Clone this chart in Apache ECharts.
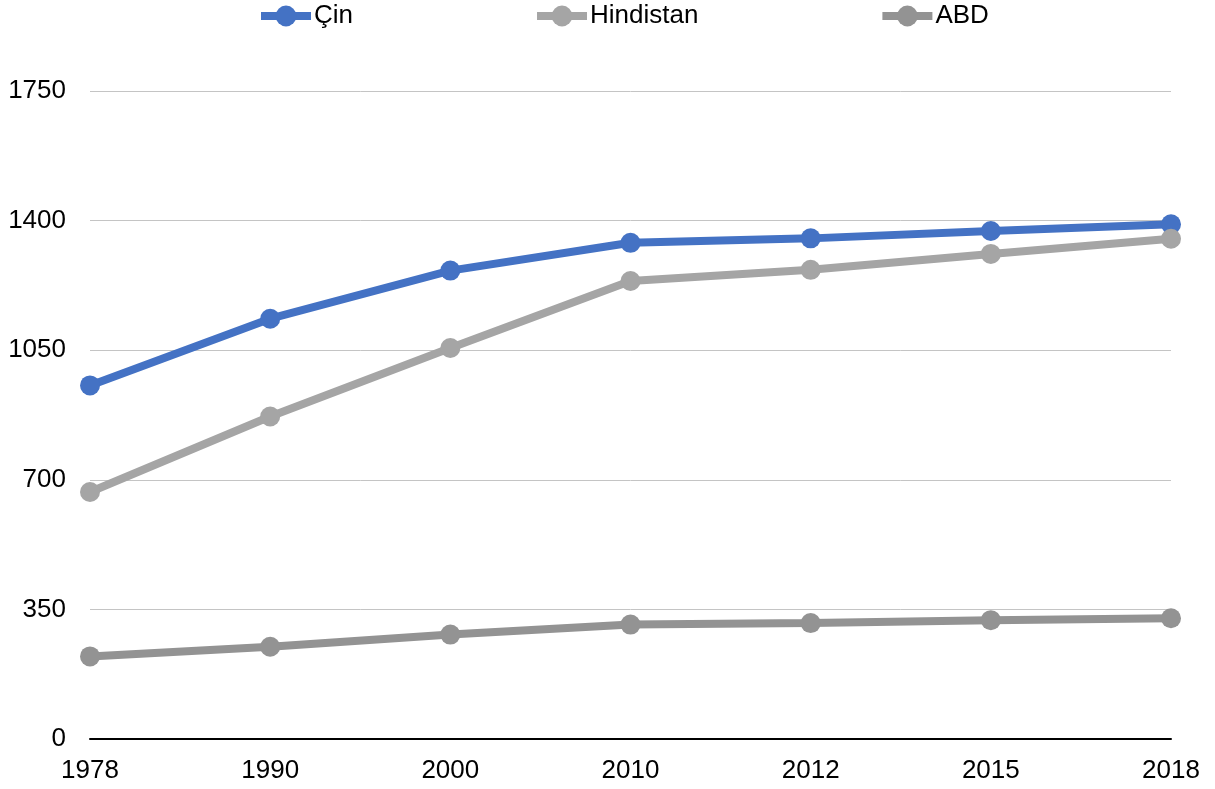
<!DOCTYPE html>
<html>
<head>
<meta charset="utf-8">
<script src="https://cdn.jsdelivr.net/npm/echarts@6/dist/echarts.min.js"></script>
<style>
  html, body { margin: 0; padding: 0; background: #fff; }
  #chart { width: 1215px; height: 789px; }
</style>
</head>
<body>
<div id="chart"></div>
<script>
// Population (millions), selected years
const years = ['1978', '1990', '2000', '2010', '2012', '2015', '2018'];
const cin = [955, 1135, 1265, 1340, 1352, 1372, 1390];
const hindistan = [667, 871, 1056, 1237, 1267, 1310, 1351];
const abd = [223, 249, 282, 309, 313, 321, 326];
const yTicks = [0, 350, 700, 1050, 1400, 1750];

const font = 'Liberation Sans, Arial, sans-serif';

function lineSeries(name, data, color) {
  return {
    name: name,
    type: 'line',
    data: data,
    symbol: 'circle',
    symbolSize: 20,
    lineStyle: { width: 8, color: color },
    itemStyle: { color: color },
    emphasis: { disabled: true }
  };
}

const chart = echarts.init(document.getElementById('chart'), null, { renderer: 'canvas' });
chart.setOption({
  animation: false,
  legend: {
    top: -2,
    left: 252,
    itemWidth: 50,
    itemHeight: 26,
    itemGap: 180,
    lineStyle: { width: 8 },
    textStyle: { fontFamily: font, fontSize: 26, color: '#000', padding: [0, 0, 0, -2] },
    data: ['Çin', 'Hindistan', 'ABD']
  },
  grid: { left: 90, right: 44, top: 91, bottom: 50, containLabel: false },
  xAxis: {
    type: 'category',
    boundaryGap: false,
    data: years,
    axisLine: { lineStyle: { color: '#000', width: 2 } },
    axisTick: { show: false },
    axisLabel: { fontFamily: font, fontSize: 26, color: '#000', margin: 19 },
    splitLine: { show: false }
  },
  yAxis: {
    type: 'value',
    min: yTicks[0],
    max: yTicks[yTicks.length - 1],
    interval: 350,
    axisLine: { show: false },
    axisTick: { show: false },
    axisLabel: { fontFamily: font, fontSize: 26, color: '#000', margin: 24,
                 formatter: function (v) { return String(v); } },
    splitLine: { lineStyle: { color: '#c4c4c4', width: 1 } }
  },
  series: [
    lineSeries('Çin', cin, '#4472C4'),
    lineSeries('Hindistan', hindistan, '#A5A5A5'),
    lineSeries('ABD', abd, '#939393')
  ]
});
</script>
</body>
</html>
